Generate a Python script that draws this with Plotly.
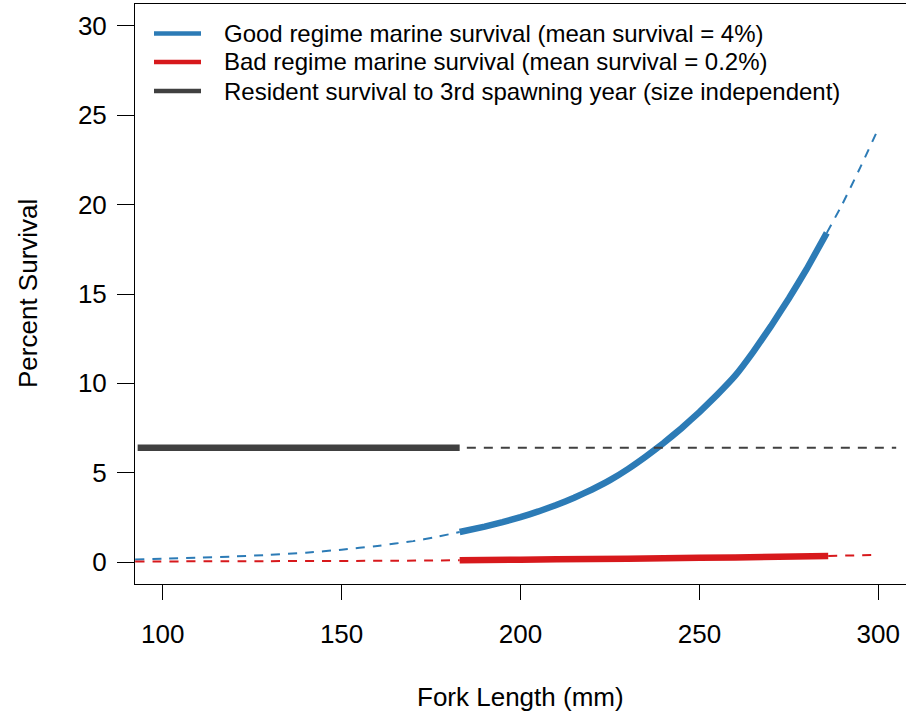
import plotly.graph_objects as go

# ---- data ----
good_lo_x = [92.3, 100, 110, 120, 130, 140, 150, 160, 170, 176, 183]
good_lo_y = [0.14, 0.18, 0.24, 0.31, 0.40, 0.52, 0.69, 0.90, 1.17, 1.38, 1.68]
good_x = [183, 190, 195, 200, 205, 210, 215, 220, 225, 230, 235, 240, 245, 250,
          255, 260, 265, 270, 275, 280, 285.6]
good_y = [1.68, 1.98, 2.23, 2.51, 2.83, 3.19, 3.60, 4.06, 4.58, 5.2, 5.9, 6.66, 7.49, 8.39,
          9.37, 10.43, 11.75, 13.2, 14.75, 16.4, 18.42]
good_hi_x = [285.6, 290, 295, 300]
good_hi_y = [18.42, 20.05, 22.1, 24.25]

bad_lo_x = [92.3, 130, 165, 183]
bad_lo_y = [0.03, 0.05, 0.07, 0.10]
bad_x = [183, 200, 220, 240, 260, 286]
bad_y = [0.10, 0.13, 0.17, 0.21, 0.26, 0.34]
bad_hi_x = [286, 300]
bad_hi_y = [0.34, 0.40]

res_x = [93, 183]
res_y = [6.4, 6.4]
res_hi_x = [185, 305]
res_hi_y = [6.4, 6.4]

legend_labels = [
    "Good regime marine survival (mean survival = 4%)",
    "Bad regime marine survival (mean survival = 0.2%)",
    "Resident survival to 3rd spawning year (size independent)",
]

x_ticks = [100, 150, 200, 250, 300]
y_ticks = [0, 5, 10, 15, 20, 25, 30]

BLUE = "#2C7BB6"
RED = "#D7191C"
GRAY = "#404040"
FONT = "Liberation Sans, Arial, sans-serif"

fig = go.Figure()

def add(x, y, color, width, dash=None):
    fig.add_trace(go.Scatter(
        x=x, y=y, mode="lines", showlegend=False, hoverinfo="skip",
        line=dict(color=color, width=width, dash=dash or "solid",
                  shape="spline", smoothing=0.3),
    ))

D = "9px,8px"
add(good_lo_x, good_lo_y, BLUE, 2, D)
add(good_x, good_y, BLUE, 6.5)
add(good_hi_x, good_hi_y, BLUE, 2, D)
add(bad_lo_x, bad_lo_y, RED, 2, D)
add(bad_x, bad_y, RED, 6.5)
add(bad_hi_x, bad_hi_y, RED, 2, D)
add(res_x, res_y, GRAY, 6.5)
add(res_hi_x, res_hi_y, GRAY, 2, D)

# ---- manual legend ----
W, H = 906, 717
L, R, T, B = 135, 0, 4, 133
pw, ph = W - L - R, H - T - B
def px(xp): return (xp - L) / pw
def py(yp): return (H - B - yp) / ph

legend_colors = [BLUE, RED, GRAY]
rows = [33.5, 62, 91]
for lab, col, yr in zip(legend_labels, legend_colors, rows):
    fig.add_shape(type="line", xref="paper", yref="paper",
                  x0=px(154), x1=px(201), y0=py(yr), y1=py(yr),
                  line=dict(color=col, width=4.5))
    fig.add_annotation(xref="paper", yref="paper", x=px(222), y=py(yr),
                       text=lab, showarrow=False, xanchor="left", yanchor="middle",
                       font=dict(size=24, color="black", family=FONT))

# axis titles
fig.add_annotation(xref="paper", yref="paper", x=0.5, y=py(697), text="Fork Length (mm)",
                   showarrow=False, xanchor="center", yanchor="middle",
                   font=dict(size=26, color="black", family=FONT))
fig.add_annotation(xref="paper", yref="paper", x=px(28), y=0.5, text="Percent Survival",
                   showarrow=False, xanchor="center", yanchor="middle", textangle=-90,
                   font=dict(size=26, color="black", family=FONT))

fig.update_layout(
    width=W, height=H,
    margin=dict(l=L, r=R, t=T, b=B),
    paper_bgcolor="white", plot_bgcolor="white",
    font=dict(family=FONT, size=26, color="black"),
    showlegend=False,
)
fig.update_xaxes(range=[92.26, 307.74], tickvals=x_ticks, ticktext=[str(v) for v in x_ticks],
                 showgrid=False, zeroline=False, showline=True, linecolor="black", linewidth=1,
                 mirror=True, ticks="outside", ticklen=15, tickcolor="black", tickwidth=1,
                 ticklabelstandoff=12,
                 tickfont=dict(size=26, color="black", family=FONT))
fig.update_yaxes(range=[-1.23, 31.23], tickvals=y_ticks, ticktext=[str(v) for v in y_ticks],
                 showgrid=False, zeroline=False, showline=True, linecolor="black", linewidth=1,
                 ticks="outside", ticklen=17, tickcolor="black", tickwidth=1,
                 ticklabelstandoff=5,
                 tickfont=dict(size=26, color="black", family=FONT))

fig.write_html("out.html")
